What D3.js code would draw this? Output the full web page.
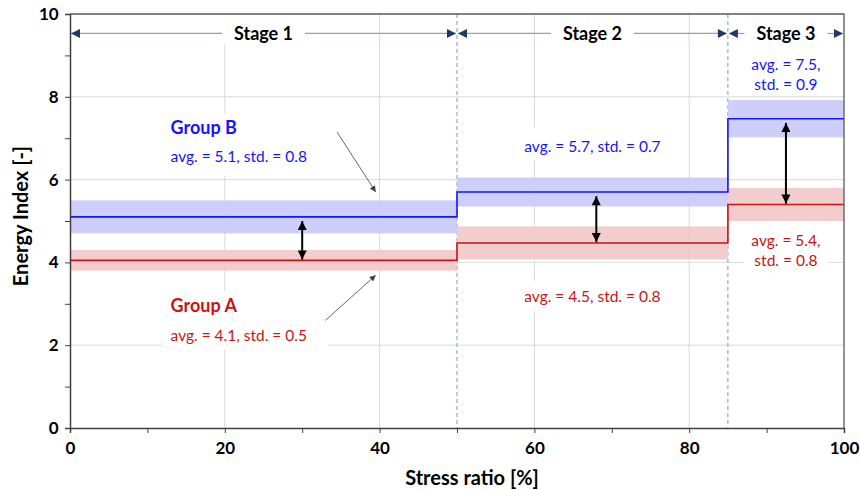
<!DOCTYPE html>
<html>
<head>
<meta charset="utf-8">
<script src="https://cdn.jsdelivr.net/npm/d3@7"></script>
<style>
  body { margin: 0; background: #fff; }
  text { font-family: Lato, "Open Sans", sans-serif; }
</style>
</head>
<body>
<div id="chart"></div>
<script>
// data
var stages = ["Stage 1", "Stage 2", "Stage 3"];
var stageBounds = [0, 50, 85, 100];
var groupAavg = [4.05, 4.47, 5.4];
var groupAstd = [0.5, 0.8, 0.8];
var groupBavg = [5.1, 5.7, 7.47];
var groupBstd = [0.8, 0.7, 0.9];
var groupAlabels = ["avg. = 4.1, std. = 0.5", "avg. = 4.5, std. = 0.8", ["avg. = 5.4,", "std. = 0.8"]];
var groupBlabels = ["avg. = 5.1, std. = 0.8", "avg. = 5.7, std. = 0.7", ["avg. = 7.5,", "std. = 0.9"]];
var diffArrowX = [30, 68, 92.5];
var xTicks = [0, 20, 40, 60, 80, 100];
var yTicks = [0, 2, 4, 6, 8, 10];

var svgWidth = 860;
var svgHeight = 490;
var margin = { top: 14, right: 16, bottom: 62, left: 70 };
var width = svgWidth - margin.left - margin.right;
var height = svgHeight - margin.top - margin.bottom;

var blue = "#1414ff", red = "#c81414";
var blueBand = "#c9c9fb", redBand = "#f2c8c8";

var svg = d3.select("#chart").append("svg")
  .attr("width", svgWidth)
  .attr("height", svgHeight);

var defs = svg.append("defs");
function marker(id, color, w, h) {
  defs.append("marker")
    .attr("id", id)
    .attr("viewBox", "0 0 10 10")
    .attr("refX", 10).attr("refY", 5)
    .attr("markerUnits", "userSpaceOnUse")
    .attr("markerWidth", w).attr("markerHeight", h)
    .attr("orient", "auto-start-reverse")
    .append("path").attr("d", "M0,0L10,5L0,10Z").attr("fill", color);
}
marker("navyHead", "#1f3864", 10, 9);
marker("blackHead", "#000", 10, 9);
marker("grayHead", "#404040", 7, 6);

var chartGroup = svg.append("g")
  .attr("transform", `translate(${margin.left}, ${margin.top})`);

var x = d3.scaleLinear().domain([0, 100]).range([0, width]);
var y = d3.scaleLinear().domain([0, 10]).range([height, 0]);

// gridlines
chartGroup.append("g")
  .selectAll("line.gx").data(xTicks.slice(1, -1)).enter().append("line")
  .attr("x1", d => x(d)).attr("x2", d => x(d))
  .attr("y1", 0).attr("y2", height)
  .attr("stroke", "#d9d9d9");
chartGroup.append("g")
  .selectAll("line.gy").data(yTicks.slice(1, -1)).enter().append("line")
  .attr("x1", 0).attr("x2", width)
  .attr("y1", d => y(d)).attr("y2", d => y(d))
  .attr("stroke", "#d9d9d9");

// white boxes behind labels (hide gridlines) go in this layer
var boxLayer = chartGroup.append("g");

// stage boundaries
chartGroup.append("g")
  .selectAll("line").data(stageBounds.slice(1, -1)).enter().append("line")
  .attr("x1", d => x(d)).attr("x2", d => x(d))
  .attr("y1", 0).attr("y2", height)
  .attr("stroke", "#8497b0")
  .attr("stroke-dasharray", "4,3");

// bands (avg +/- std/2)
function bands(avg, std, fill) {
  chartGroup.append("g")
    .selectAll("rect").data(avg).enter().append("rect")
    .attr("x", (d, i) => x(stageBounds[i]))
    .attr("width", (d, i) => x(stageBounds[i + 1]) - x(stageBounds[i]))
    .attr("y", (d, i) => y(d + std[i] / 2))
    .attr("height", (d, i) => y(d - std[i] / 2) - y(d + std[i] / 2))
    .attr("fill", fill)
    .attr("opacity", 0.9);
}
bands(groupBavg, groupBstd, blueBand);
bands(groupAavg, groupAstd, redBand);

// step lines
function stepPoints(avg) {
  var pts = [];
  avg.forEach(function(v, i) {
    pts.push([stageBounds[i], v]);
    pts.push([stageBounds[i + 1], v]);
  });
  return pts;
}
var line = d3.line().x(d => x(d[0])).y(d => y(d[1]));
chartGroup.append("path").datum(stepPoints(groupBavg))
  .attr("d", line).attr("fill", "none").attr("stroke", blue).attr("stroke-width", 1.6);
chartGroup.append("path").datum(stepPoints(groupAavg))
  .attr("d", line).attr("fill", "none").attr("stroke", red).attr("stroke-width", 1.6);

// difference arrows
chartGroup.append("g")
  .selectAll("line").data(diffArrowX).enter().append("line")
  .attr("x1", d => x(d)).attr("x2", d => x(d))
  .attr("y1", (d, i) => y(groupAavg[i] + 0.02))
  .attr("y2", (d, i) => y(groupBavg[i] - 0.1))
  .attr("stroke", "#000").attr("stroke-width", 2)
  .attr("marker-start", "url(#blackHead)")
  .attr("marker-end", "url(#blackHead)");

// axes
var bottomAxis = d3.axisBottom(x).tickValues(d3.range(0, 101, 10)).tickSize(5)
  .tickFormat(d => xTicks.indexOf(d) >= 0 ? d : "");
var leftAxis = d3.axisLeft(y).tickValues(d3.range(0, 11, 1)).tickSize(5)
  .tickFormat(d => yTicks.indexOf(d) >= 0 ? d : "");

var gx = chartGroup.append("g")
  .attr("transform", `translate(0, ${height})`)
  .call(bottomAxis);
var gy = chartGroup.append("g").call(leftAxis);
[gx, gy].forEach(function(g) {
  g.select(".domain").attr("stroke", "#404040").attr("stroke-width", 1.5);
  g.selectAll(".tick line").attr("stroke", "#404040");
  g.selectAll(".tick text")
    .attr("fill", "#000")
    .style("font-family", "Lato, sans-serif")
    .style("font-size", "17px")
    .style("font-weight", "bold");
});
gx.selectAll(".tick text").attr("dy", "1.05em");
gy.selectAll(".tick text").attr("dx", "-0.2em");

// frame top / right
chartGroup.append("path")
  .attr("d", `M0,0H${width}V${height}`)
  .attr("fill", "none").attr("stroke", "#595959").attr("stroke-width", 1.3);

// stage headers
var stageY = y(9.53);
stages.forEach(function(s, i) {
  var x0 = x(stageBounds[i]), x1 = x(stageBounds[i + 1]);
  var cx = (x0 + x1) / 2;
  var t = chartGroup.append("text")
    .attr("x", cx).attr("y", stageY)
    .attr("dy", "0.35em")
    .attr("text-anchor", "middle")
    .style("font-size", "18px").style("font-weight", "bold")
    .text(s);
  var w = t.node().getComputedTextLength();
  var gap = w / 2 + 12;
  boxLayer.append("rect")
    .attr("x", cx - gap + 2).attr("width", 2 * gap - 4)
    .attr("y", 1).attr("height", 30).attr("fill", "#fff");
  chartGroup.append("line")
    .attr("x1", cx - gap).attr("x2", x0 + 1)
    .attr("y1", stageY).attr("y2", stageY)
    .attr("stroke", "#8ea0bf").attr("stroke-width", 1.2)
    .attr("marker-end", "url(#navyHead)");
  chartGroup.append("line")
    .attr("x1", cx + gap).attr("x2", x1 - 1)
    .attr("y1", stageY).attr("y2", stageY)
    .attr("stroke", "#8ea0bf").attr("stroke-width", 1.2)
    .attr("marker-end", "url(#navyHead)");
});

// annotation helper: white box + text lines
function note(lines, px, py, color, anchor, box) {
  if (box) {
    boxLayer.append("rect")
      .attr("x", box[0]).attr("y", box[1]).attr("width", box[2]).attr("height", box[3])
      .attr("fill", "#fff");
  }
  lines.forEach(function(l, k) {
    chartGroup.append("text")
      .attr("x", px).attr("y", py + k * 20)
      .attr("dy", "0.35em")
      .attr("text-anchor", anchor)
      .attr("fill", color)
      .style("font-size", l.bold ? "18px" : "15.5px")
      .style("font-weight", l.bold ? "bold" : "normal")
      .text(l.t);
  });
}

// Group B, stage 1
note([{ t: "Group B", bold: true }], x(13), y(7.25), blue, "start", [x(12), y(7.6), 165, 62]);
note([{ t: groupBlabels[0] }], x(13), y(6.55), blue, "start");
// Group A, stage 1
note([{ t: "Group A", bold: true }], x(13), y(2.95), red, "start", [x(12), y(3.3), 165, 58]);
note([{ t: groupAlabels[0] }], x(13), y(2.23), red, "start");
// stage 2
note([{ t: groupBlabels[1] }], x(67.5), y(6.8), blue, "middle", [x(57), y(7.25), 160, 33]);
note([{ t: groupAlabels[1] }], x(67.5), y(3.17), red, "middle", [x(57), y(3.55), 160, 30]);
// stage 3
note(groupBlabels[2].map(t => ({ t: t })), x(92.5), y(8.77), blue, "middle");
note(groupAlabels[2].map(t => ({ t: t })), x(92.5), y(4.53), red, "middle", [x(87), y(4.85), 85, 46]);

// pointer arrows
chartGroup.append("line")
  .attr("x1", x(34.5)).attr("y1", y(7.15))
  .attr("x2", x(39.5)).attr("y2", y(5.7))
  .attr("stroke", "#404040").attr("stroke-width", 0.8)
  .attr("marker-end", "url(#grayHead)");
chartGroup.append("line")
  .attr("x1", x(33)).attr("y1", y(2.6))
  .attr("x2", x(39.5)).attr("y2", y(3.69))
  .attr("stroke", "#404040").attr("stroke-width", 0.8)
  .attr("marker-end", "url(#grayHead)");

// axes labels
chartGroup.append("text")
  .attr("transform", "rotate(-90)")
  .attr("y", -42)
  .attr("x", -height / 2 + 5)
  .attr("text-anchor", "middle")
  .style("font-size", "20px").style("font-weight", "bold")
  .text("Energy Index [-]");
chartGroup.append("text")
  .attr("x", width / 2 + 15)
  .attr("y", height + 57)
  .attr("text-anchor", "middle")
  .style("font-size", "20px").style("font-weight", "bold")
  .text("Stress ratio [%]");
</script>
</body>
</html>
